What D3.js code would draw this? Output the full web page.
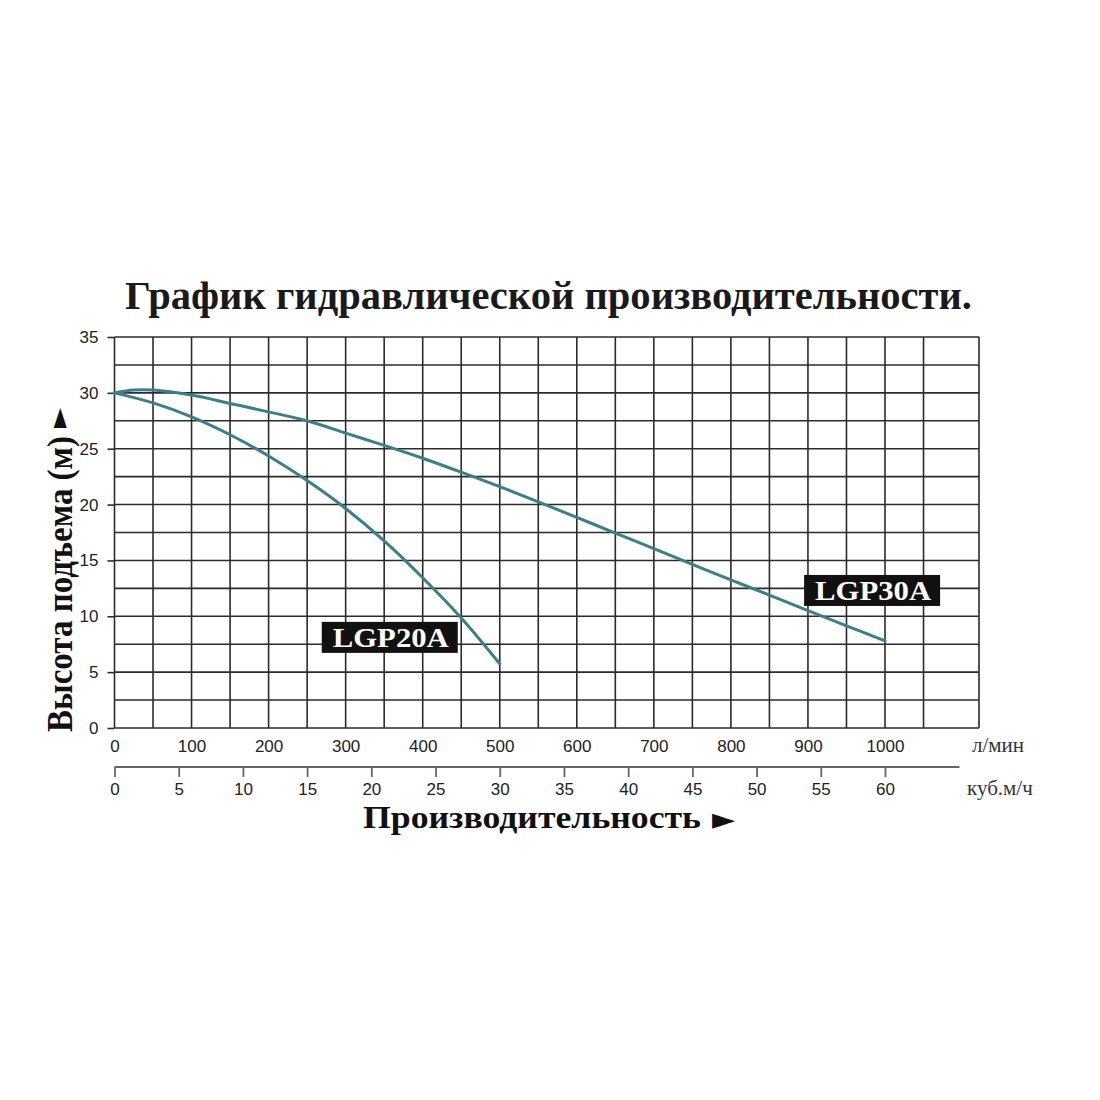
<!DOCTYPE html>
<html>
<head>
<meta charset="utf-8">
<script src="https://cdn.jsdelivr.net/npm/d3@7"></script>
<style>
  html, body { margin: 0; padding: 0; background: #fff; }
  svg { display: block; }
</style>
</head>
<body>
<div id="chart"></div>
<script>
// Pump curves, head (m) vs flow (l/min)
const flowLGP20A = [0, 50, 100, 150, 200, 250, 300, 350, 400, 450, 500];
const headLGP20A = [30, 29.1, 27.85, 26.25, 24.35, 22.15, 19.65, 16.75, 13.45, 9.85, 5.75];

const flowLGP30A = [0, 25, 50, 100, 150, 200, 250, 300, 350, 400, 450, 500, 550, 600, 650, 700, 750, 800, 850, 900, 950, 1000];
const headLGP30A = [30, 30.25, 30.25, 29.8, 29.05, 28.3, 27.5, 26.4, 25.3, 24.15, 22.9, 21.6, 20.25, 18.85, 17.45, 16.05, 14.65, 13.25, 11.9, 10.5, 9.15, 7.8];

const seriesNames = ['LGP20A', 'LGP30A'];
// label box corners in data units [flow, head] (top-left)
const labelAnchors = [[269, 9.5], [895, 13.7]];

const yTicks = [0, 5, 10, 15, 20, 25, 30, 35];
const lpmTicks = [0, 100, 200, 300, 400, 500, 600, 700, 800, 900, 1000];
const m3hTicks = [0, 5, 10, 15, 20, 25, 30, 35, 40, 45, 50, 55, 60];
const flowMax = 1122;      // right border of grid, l/min
const m3hAxisMax = 65.8;   // end of second axis line, m3/h

const titleText = 'График гидравлической производительности.';
const yTitle = 'Высота подъема (м)';
const xTitle = 'Производительность';
const unitLpm = 'л/мин';
const unitM3h = 'куб.м/ч';

(function(){
  const W = 1100, H = 1100;
  const svg = d3.select('#chart').append('svg')
    .attr('width', W).attr('height', H)
    .attr('viewBox', `0 0 ${W} ${H}`);

  const x = d3.scaleLinear().domain([0, 1000]).range([114.5, 885]);
  const y = d3.scaleLinear().domain([0, 35]).range([728, 337]);
  const x2 = d3.scaleLinear().domain([0, 60]).range([x(0), x(1000)]);

  const serif = '"Liberation Serif", "Times New Roman", serif';
  const sans = '"Liberation Sans", Arial, sans-serif';
  const gridCol = '#2b2b2b';

  // Title
  svg.append('text')
    .attr('x', 125).attr('y', 309)
    .attr('textLength', 847).attr('lengthAdjust', 'spacingAndGlyphs')
    .attr('font-family', serif).attr('font-weight', 'bold')
    .attr('font-size', 40).attr('fill', '#1a1a1a')
    .text(titleText);

  // Grid
  const grid = svg.append('g');
  grid.selectAll('line.h').data(d3.range(0, 35.01, 2.5)).enter().append('line')
    .attr('class', 'h')
    .attr('x1', x(0)).attr('x2', x(flowMax))
    .attr('y1', d => y(d)).attr('y2', d => y(d))
    .attr('stroke', gridCol).attr('stroke-width', 1.6);
  grid.selectAll('line.v').data(d3.range(0, 1050.1, 50).concat([flowMax])).enter().append('line')
    .attr('class', 'v')
    .attr('x1', d => x(d)).attr('x2', d => x(d))
    .attr('y1', y(0)).attr('y2', y(35))
    .attr('stroke', gridCol).attr('stroke-width', 1.6);

  // Y axis
  const yAx = svg.append('g').attr('transform', `translate(${x(0)},0)`)
    .call(d3.axisLeft(y).tickValues(yTicks).tickSize(7).tickPadding(9).tickFormat(d3.format('d')));
  yAx.select('.domain').remove();
  yAx.selectAll('line').attr('stroke', gridCol).attr('stroke-width', 1.6);
  yAx.selectAll('text').attr('font-family', sans).attr('font-size', 17).attr('fill', '#222');

  // X axis (l/min)
  const xAx = svg.append('g').attr('transform', `translate(0,${y(0)})`)
    .call(d3.axisBottom(x).tickValues(lpmTicks).tickSize(0).tickPadding(12).tickFormat(d3.format('d')));
  xAx.select('.domain').remove();
  xAx.selectAll('text').attr('font-family', sans).attr('font-size', 17).attr('fill', '#222');

  // Second X axis (m3/h)
  const x2Ax = svg.append('g').attr('transform', 'translate(0,767)')
    .call(d3.axisBottom(x2).tickValues(m3hTicks).tickSize(10).tickPadding(6).tickFormat(d3.format('d')));
  x2Ax.select('.domain').remove();
  x2Ax.append('line')
    .attr('x1', x2(0)).attr('x2', x2(m3hAxisMax))
    .attr('stroke', '#666').attr('stroke-width', 1.8);
  x2Ax.selectAll('.tick line').attr('stroke', '#666').attr('stroke-width', 1.8);
  x2Ax.selectAll('text').attr('font-family', sans).attr('font-size', 17).attr('fill', '#222');

  // Units
  svg.append('text').attr('x', 972).attr('y', 752)
    .attr('font-family', serif).attr('font-size', 21).attr('fill', '#333').text(unitLpm);
  svg.append('text').attr('x', 967).attr('y', 795)
    .attr('font-family', serif).attr('font-size', 21).attr('fill', '#333').text(unitM3h);

  // Axis titles
  svg.append('text').attr('x', 363).attr('y', 828)
    .attr('textLength', 338).attr('lengthAdjust', 'spacingAndGlyphs')
    .attr('font-family', serif).attr('font-weight', 'bold').attr('font-size', 31)
    .attr('fill', '#111').text(xTitle);
  svg.append('text').attr('x', 712).attr('y', 829)
    .attr('font-family', '"DejaVu Sans", sans-serif').attr('font-size', 30)
    .attr('fill', '#111').text('►');

  const yt = svg.append('g').attr('transform', 'translate(72,732) rotate(-90)');
  yt.append('text').attr('x', 0).attr('y', 0)
    .attr('textLength', 296).attr('lengthAdjust', 'spacingAndGlyphs')
    .attr('font-family', serif).attr('font-weight', 'bold').attr('font-size', 36)
    .attr('fill', '#111').text(yTitle);
  yt.append('text').attr('x', 304).attr('y', -5)
    .attr('font-family', '"DejaVu Sans", sans-serif').attr('font-size', 26)
    .attr('fill', '#111').text('►');

  // Curves
  const line = d3.line().x(d => x(d[0])).y(d => y(d[1])).curve(d3.curveCatmullRom.alpha(0.5));
  const curves = [
    d3.zip(flowLGP20A, headLGP20A),
    d3.zip(flowLGP30A, headLGP30A)
  ];
  svg.append('g').selectAll('path.curve').data(curves).enter().append('path')
    .attr('class', 'curve')
    .attr('d', line)
    .attr('fill', 'none')
    .attr('stroke', '#3a7f8b')
    .attr('stroke-width', 3)
    .attr('stroke-linecap', 'round');

  // Series labels
  const lab = svg.append('g').selectAll('g.lab').data(seriesNames).enter().append('g')
    .attr('class', 'lab')
    .attr('transform', (d, i) => `translate(${x(labelAnchors[i][0])},${y(labelAnchors[i][1])})`);
  lab.append('rect').attr('width', 136).attr('height', 31).attr('fill', '#111');
  lab.append('text').attr('x', 11).attr('y', 25)
    .attr('textLength', 116).attr('lengthAdjust', 'spacingAndGlyphs')
    .attr('font-family', serif).attr('font-weight', 'bold').attr('font-size', 27)
    .attr('fill', '#fff').text(d => d);
})();
</script>
</body>
</html>
